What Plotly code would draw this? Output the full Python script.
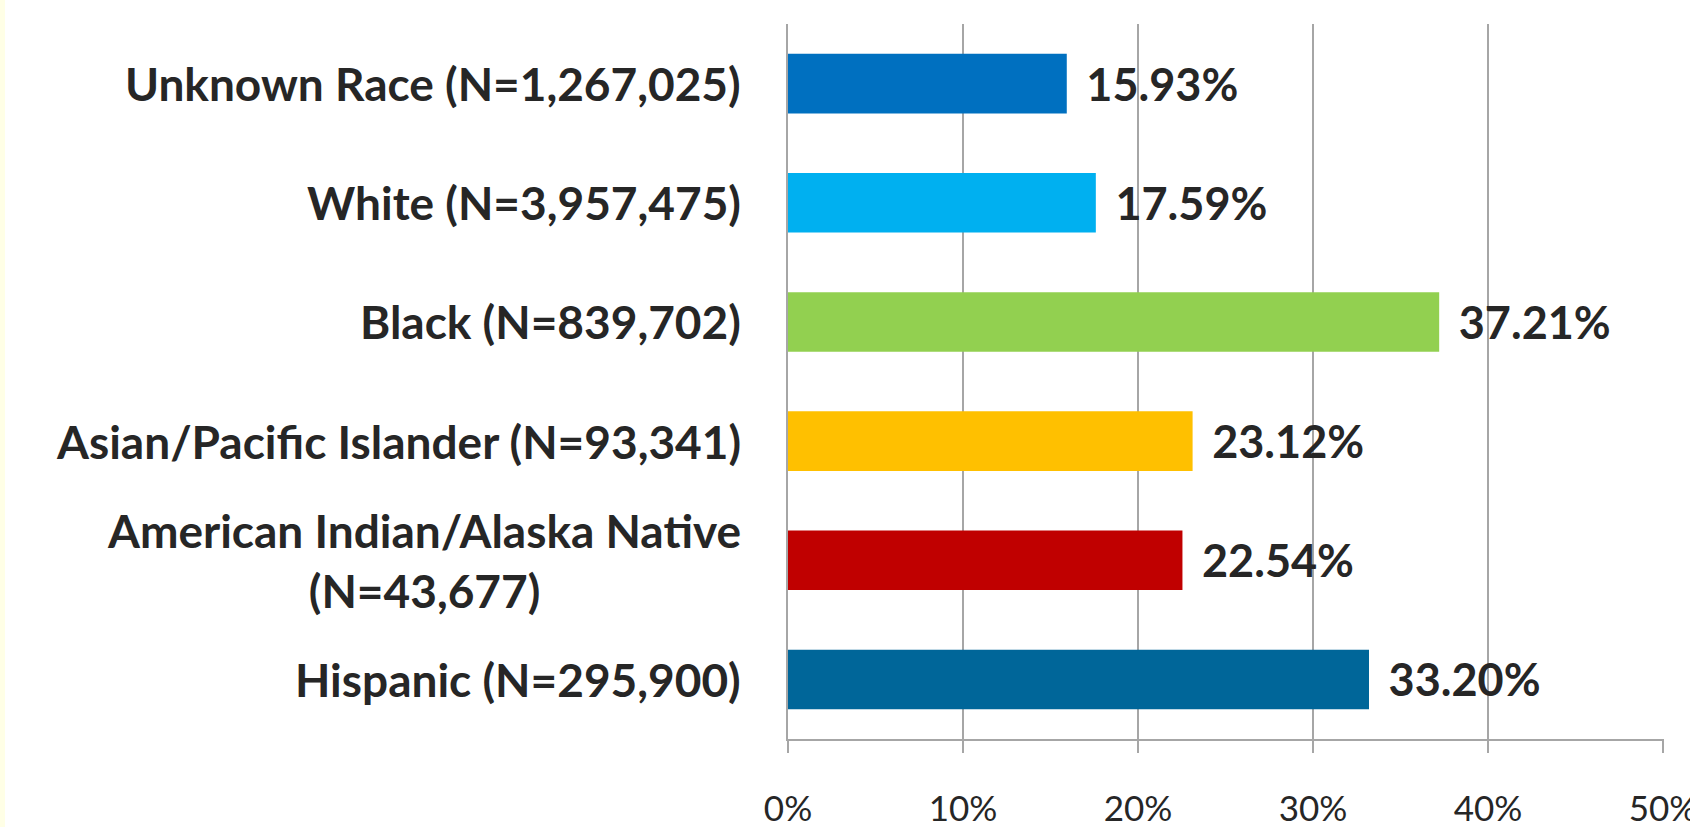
import plotly.graph_objects as go

categories = [
    "Unknown Race (N=1,267,025)",
    "White (N=3,957,475)",
    "Black (N=839,702)",
    "Asian/Pacific Islander (N=93,341)",
    "American Indian/Alaska Native<br>(N=43,677)",
    "Hispanic (N=295,900)",
]
values = [15.93, 17.59, 37.21, 23.12, 22.54, 33.20]
bar_colors = ["#0070C0", "#00B0F0", "#92D050", "#FFC000", "#C00000", "#006699"]
tick_vals = [0, 10, 20, 30, 40, 50]
tick_text = ["0%", "10%", "20%", "30%", "40%", "50%"]

FONT = "Lato"
GRID = "#A6A6A6"
TXT = "#262626"

fig = go.Figure()
fig.add_trace(go.Bar(
    x=values,
    y=categories,
    orientation="h",
    marker=dict(color=bar_colors, line=dict(width=0)),
    texttemplate="\u00a0\u2009%{x:.2f}%",
    textposition="outside",
    constraintext="none",
    cliponaxis=False,
    textfont=dict(family=FONT, size=45, color=TXT, weight="bold"),
    hoverinfo="skip",
))

for cat in categories:
    fig.add_annotation(
        x=0, xref="paper", y=cat, yref="y",
        text=cat, showarrow=False, xanchor="right", yanchor="middle",
        align="center", xshift=-45,
        font=dict(family=FONT, size=46, color=TXT, weight="bold"),
    )

# thin yellowish strip at the left edge of the picture
fig.add_shape(type="rect", xref="paper", yref="paper",
              x0=-788 / 876, x1=-783 / 876, y0=-88 / 715, y1=1 + 24 / 715,
              fillcolor="#FFFFE6", line=dict(width=0), layer="below")

fig.update_layout(
    width=1690, height=827,
    margin=dict(l=788, r=26, t=24, b=88, autoexpand=False),
    paper_bgcolor="white", plot_bgcolor="white",
    bargap=0.5, showlegend=False,
    font=dict(family=FONT, color=TXT),
)
fig.update_xaxes(
    range=[0, 50.057], tickvals=tick_vals, ticktext=tick_text,
    showgrid=True, gridcolor=GRID, gridwidth=2,
    showline=True, linecolor=GRID, linewidth=2,
    ticks="outside", ticklen=12, tickwidth=2, tickcolor=GRID,
    tickfont=dict(family=FONT, size=35, color=TXT),
    ticklabelstandoff=26, ticklabeloverflow="allow",
    automargin=False, zeroline=False, fixedrange=True,
)
fig.update_yaxes(
    autorange="reversed", showticklabels=False, showgrid=False,
    showline=True, linecolor=GRID, linewidth=2, ticks="", zeroline=False,
    automargin=False, fixedrange=True,
)
fig.write_html(
    "out.html",
    config={"displayModeBar": False},
    post_script="document.body.style.margin='0px';document.body.style.overflow='hidden';",
)
